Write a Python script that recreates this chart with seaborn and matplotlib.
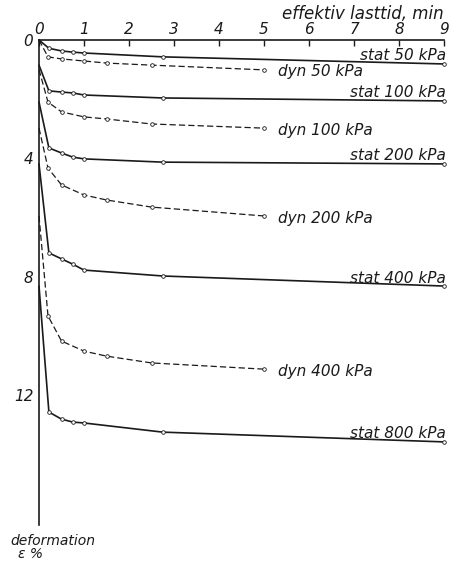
import numpy as np
import pandas as pd
import matplotlib
matplotlib.use("Agg")
import matplotlib.pyplot as plt
import seaborn as sns

# ---- data (time in min, deformation in %) ----
stat_t = [0, 0.22, 0.5, 0.75, 1.0, 2.75, 9.0]
dyn_t = [0, 0.2, 0.5, 1.0, 1.5, 2.5, 5.0]

stat_50 = [0.0, 0.28, 0.37, 0.41, 0.44, 0.57, 0.81]
stat_100 = [0.85, 1.72, 1.76, 1.79, 1.86, 1.96, 2.06]
stat_200 = [2.10, 3.65, 3.82, 3.96, 4.02, 4.13, 4.19]
stat_400 = [4.19, 7.20, 7.40, 7.58, 7.78, 7.98, 8.32]
stat_800 = [8.32, 12.58, 12.82, 12.92, 12.95, 13.26, 13.59]

dyn_50 = [0.0, 0.57, 0.64, 0.71, 0.78, 0.85, 1.01]
dyn_100 = [1.0, 2.10, 2.43, 2.60, 2.67, 2.84, 2.98]
dyn_200 = [2.98, 4.33, 4.90, 5.24, 5.41, 5.65, 5.95]
dyn_400 = [5.95, 9.33, 10.18, 10.52, 10.69, 10.92, 11.13]

stat_names = ["stat 50 kPa", "stat 100 kPa", "stat 200 kPa", "stat 400 kPa", "stat 800 kPa"]
dyn_names = ["dyn 50 kPa", "dyn 100 kPa", "dyn 200 kPa", "dyn 400 kPa"]
stat_series = [stat_50, stat_100, stat_200, stat_400, stat_800]
dyn_series = [dyn_50, dyn_100, dyn_200, dyn_400]

x_ticks = list(range(0, 10))
y_ticks = [0, 4, 8, 12]
x_label = "effektiv lasttid, min"
y_label_1 = "deformation"
y_label_2 = "ε %"

# ---- figure ----
sns.set_theme(style="white")
plt.rcParams["font.family"] = ["DejaVu Sans"]
plt.rcParams["font.style"] = "italic"

W, H = 449, 562
fig = plt.figure(figsize=(W / 100, H / 100), dpi=100)
ax = fig.add_axes([39 / W, 37 / H, 405 / W, 485 / H])

ink = "#1a1a1a"

for name, vals in zip(stat_names, stat_series):
    sns.lineplot(x=stat_t, y=vals, ax=ax, color=ink, lw=1.2, linestyle="-",
                 marker="o", markersize=2.6, markerfacecolor="white",
                 markeredgecolor=ink, markeredgewidth=0.6, clip_on=False,
                 markevery=list(range(1, len(stat_t))),
                 sort=False, estimator=None)
    ax.annotate(name, xy=(stat_t[-1], vals[-1]), xytext=(1.5, 2.5),
                textcoords="offset points", ha="right", va="baseline",
                fontsize=11, style="italic", color=ink, annotation_clip=False)

for name, vals in zip(dyn_names, dyn_series):
    sns.lineplot(x=dyn_t, y=vals, ax=ax, color=ink, lw=0.9, linestyle=(0, (5, 2.5)),
                 marker="o", markersize=2.6, markerfacecolor="white",
                 markeredgecolor=ink, markeredgewidth=0.6, clip_on=False,
                 markevery=list(range(1, len(dyn_t))),
                 sort=False, estimator=None)
    ax.annotate(name, xy=(dyn_t[-1], vals[-1]), xytext=(10, -1.5),
                textcoords="offset points", ha="left", va="center",
                fontsize=11, style="italic", color=ink, annotation_clip=False)

ax.set_xlim(0, 9)
ax.set_ylim(16.4, 0)
ax.set_xticks(x_ticks)
ax.set_yticks(y_ticks)
ax.set_xticklabels([str(v) for v in x_ticks], fontsize=11, style="italic")
ax.set_yticklabels([str(v) for v in y_ticks], fontsize=11, style="italic")
ax.xaxis.tick_top()
ax.tick_params(axis="x", direction="in", length=4, width=1, pad=2, colors=ink)
ax.tick_params(axis="y", direction="in", length=4, width=1, pad=4, colors=ink)
ax.set_xlabel("")
ax.set_ylabel("")

for side in ["right", "bottom"]:
    ax.spines[side].set_visible(False)
for side in ["top", "left"]:
    ax.spines[side].set_visible(True)
    ax.spines[side].set_color(ink)
    ax.spines[side].set_linewidth(1.2)
ax.grid(False)
ax.set_facecolor("white")

fig.text(444 / W, 1 - 19 / H, x_label, ha="right", va="baseline",
         fontsize=12, style="italic", color=ink)
fig.text(10 / W, 1 - 545 / H, y_label_1, ha="left", va="baseline",
         fontsize=10, style="italic", color=ink)
fig.text(18 / W, 1 - 558 / H, y_label_2, ha="left", va="baseline",
         fontsize=10, style="italic", color=ink)

fig.savefig("out.png", dpi=100, facecolor="white")
